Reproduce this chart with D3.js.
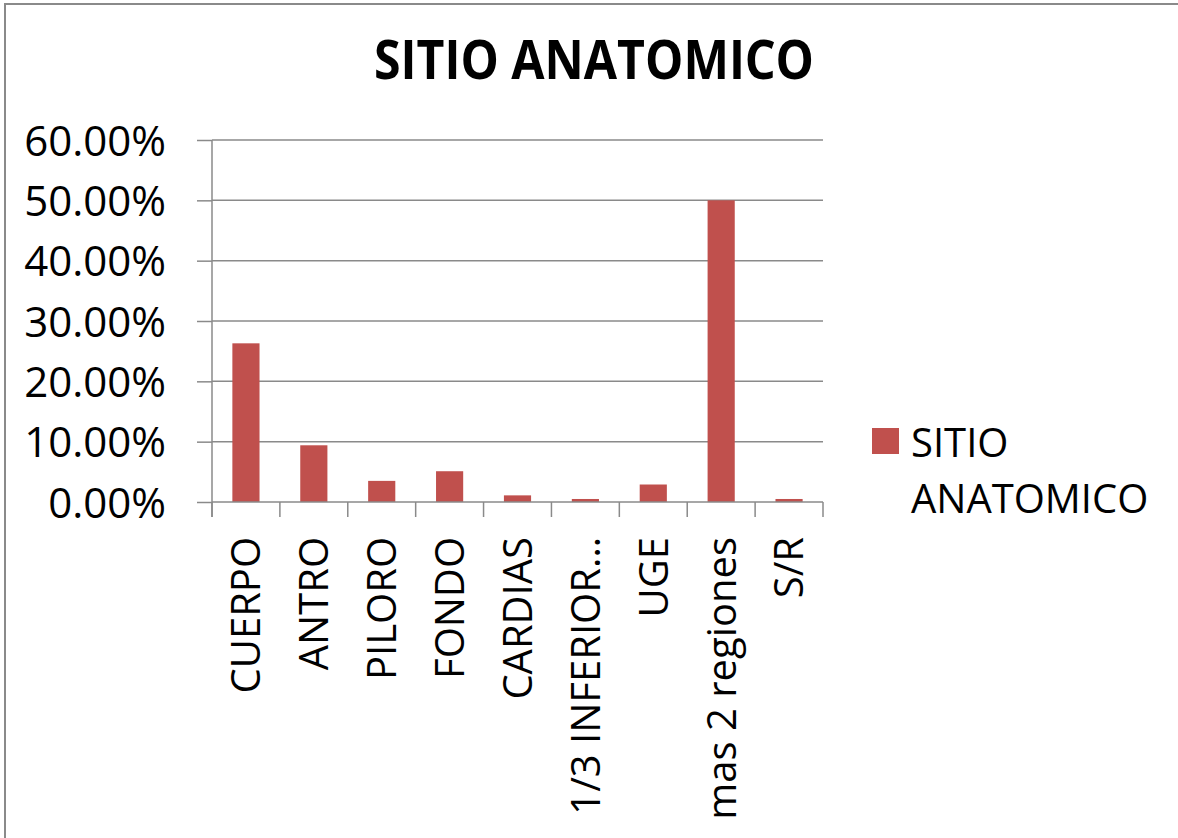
<!DOCTYPE html>
<html>
<head>
<meta charset="utf-8">
<script src="https://cdn.jsdelivr.net/npm/d3@7"></script>
<style>
  html, body { margin: 0; padding: 0; background: #fff; }
  svg { display: block; }
  text { font-family: "Open Sans", "Liberation Sans", sans-serif; fill: #000; }
</style>
</head>
<body>
<svg id="chart" width="1178" height="838"></svg>
<script>
// Anatomical site distribution
const categories = ["CUERPO", "ANTRO", "PILORO", "FONDO", "CARDIAS", "1/3 INFERIOR…", "UGE", "mas 2 regiones", "S/R"];
const values = [0.263, 0.094, 0.035, 0.051, 0.011, 0.005, 0.029, 0.500, 0.005];
const yTicks = [0, 0.1, 0.2, 0.3, 0.4, 0.5, 0.6];
const seriesName = "SITIO ANATOMICO";
const titleText = "SITIO ANATOMICO";

const svg = d3.select("#chart");
const barColor = "#C0504D";
const gridColor = "#8a8a8a";

// frame lines (left and top)
svg.append("line").attr("x1", 5).attr("x2", 5).attr("y1", 3).attr("y2", 838)
  .attr("stroke", "#8a8a8a").attr("stroke-width", 2);
svg.append("line").attr("x1", 4).attr("x2", 1178).attr("y1", 4).attr("y2", 4)
  .attr("stroke", "#8a8a8a").attr("stroke-width", 2);

const plot = { left: 212, right: 823, top: 140, bottom: 502 };

const x = d3.scaleBand()
  .domain(categories)
  .range([plot.left, plot.right])
  .paddingInner(0.6)
  .paddingOuter(0.3);

const y = d3.scaleLinear()
  .domain([0, 0.6])
  .range([plot.bottom, plot.top]);

// title
svg.append("text")
  .attr("x", 594).attr("y", 79)
  .attr("text-anchor", "middle")
  .attr("font-size", 53)
  .attr("font-weight", "bold")
  .attr("textLength", 440)
  .attr("lengthAdjust", "spacingAndGlyphs")
  .text(titleText);

// horizontal gridlines
svg.append("g").selectAll("line")
  .data(yTicks.filter(d => d > 0))
  .join("line")
  .attr("x1", plot.left).attr("x2", plot.right)
  .attr("y1", d => y(d)).attr("y2", d => y(d))
  .attr("stroke", gridColor).attr("stroke-width", 1.5);

// y axis
const yAxis = svg.append("g")
  .attr("transform", `translate(${plot.left},0)`)
  .call(d3.axisLeft(y).tickValues(yTicks).tickFormat(d3.format(".2%")).tickSize(15).tickPadding(31));
yAxis.select(".domain").remove();
yAxis.selectAll(".tick line").attr("stroke", gridColor).attr("stroke-width", 1.5);
yAxis.selectAll(".tick text")
  .attr("font-size", 42)
  .attr("font-family", "'Open Sans', 'Liberation Sans', sans-serif")
  .attr("fill", "#000")
  .attr("dy", "0.36em");
svg.append("line")
  .attr("x1", plot.left).attr("x2", plot.left)
  .attr("y1", plot.top).attr("y2", plot.bottom + 15)
  .attr("stroke", gridColor).attr("stroke-width", 1.5);

// bars
svg.append("g").selectAll("rect")
  .data(categories.map((c, i) => ({ c, v: values[i] })))
  .join("rect")
  .attr("x", d => x(d.c))
  .attr("width", x.bandwidth())
  .attr("y", d => y(d.v))
  .attr("height", d => y(0) - y(d.v))
  .attr("fill", barColor);

// x axis baseline and category boundary ticks
svg.append("line")
  .attr("x1", plot.left).attr("x2", plot.right)
  .attr("y1", y(0)).attr("y2", y(0))
  .attr("stroke", gridColor).attr("stroke-width", 1.5);
const step = x.step();
const bounds = d3.range(categories.length + 1).map(i => x(categories[0]) - x.paddingOuter() * step + i * step);
svg.append("g").selectAll("line")
  .data(bounds)
  .join("line")
  .attr("x1", d => d).attr("x2", d => d)
  .attr("y1", y(0)).attr("y2", y(0) + 15)
  .attr("stroke", gridColor).attr("stroke-width", 1.5);

// rotated category labels
svg.append("g").selectAll("text")
  .data(categories)
  .join("text")
  .attr("transform", d => `translate(${x(d) + x.bandwidth() / 2},537) rotate(-90)`)
  .attr("text-anchor", "end")
  .attr("dy", "0.36em")
  .attr("font-size", 40)
  .text(d => d);

// legend
const legend = svg.append("g");
legend.append("rect")
  .attr("x", 872).attr("y", 428).attr("width", 27).attr("height", 26)
  .attr("fill", barColor);
const legendText = legend.append("text")
  .attr("x", 911).attr("y", 457)
  .attr("font-size", 40);
seriesName.split(" ").forEach((w, i) => {
  legendText.append("tspan").attr("x", 911).attr("dy", i === 0 ? 0 : 56).text(w);
});
</script>
</body>
</html>
